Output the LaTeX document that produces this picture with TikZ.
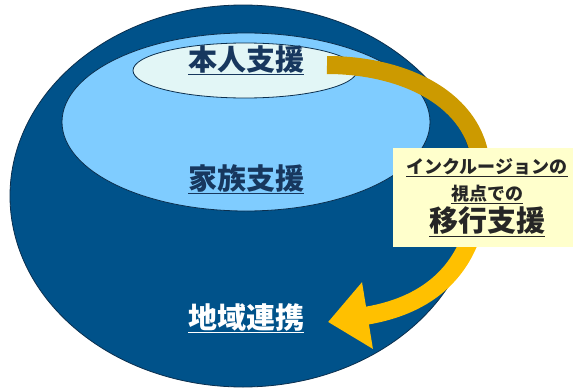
\documentclass[tikz,border=0pt]{standalone}
\usepackage{fontspec}
\setmainfont{Noto Sans CJK JP}
\usepackage{xcolor}
\usepackage{tikz}
\usetikzlibrary{shapes.geometric, arrows.meta, positioning}

\definecolor{deepblue}{HTML}{00528A}
\definecolor{edgeblue}{HTML}{0B2F4E}
\definecolor{skyblue}{HTML}{7FCCFF}
\definecolor{paleblue}{HTML}{E2F6F6}
\definecolor{navytext}{HTML}{17375E}
\definecolor{darkgold}{HTML}{CC9A00}
\definecolor{brightgold}{HTML}{FFC000}
\definecolor{notecream}{HTML}{FFFFCC}
\definecolor{notetext}{HTML}{262626}

\begin{document}
\begin{tikzpicture}[
    x=1pt, y=-1pt,
    region/.style={ellipse, draw=edgeblue, line width=0.8pt, inner sep=0pt},
    area label/.style={font=\bfseries\fontsize{29}{34}\selectfont, anchor=base, inner sep=0pt},
    note line/.style={font=\bfseries\fontsize{18}{22}\selectfont, text=notetext, anchor=base, inner sep=0pt},
    shift arrow/.style={line width=18pt}
]
\useasboundingbox (0,0) rectangle (573,388);

% nested circles of support
\node [region, fill=deepblue, minimum width=466pt, minimum height=382pt] (community) at (243,196) {};
\node [region, fill=skyblue, minimum width=368pt, minimum height=178pt] (family) at (246,122) {};
\node [region, fill=paleblue, minimum width=224pt, minimum height=55pt] (self) at (245,70.5) {};

% transition arrow
\coordinate (arrowstart) at (327,65);
\coordinate (bend) at (481,165);
\coordinate (arrowtip) at (328,322);
\draw [shift arrow, darkgold] (arrowstart) .. controls (405,65) and (476,100) .. (bend);
\draw [shift arrow, brightgold, -{Triangle[length=40pt, width=65pt]}] (bend) .. controls (484,265) and (432,305) .. (arrowtip);

\node [area label, text=navytext] (selflabel) at (246,70) {\underline{本人支援}};
\node [area label, text=navytext] (familylabel) at (246,189) {\underline{家族支援}};
\node [area label, text=white] (communitylabel) at (246,328) {\underline{地域連携}};

% note box
\node [rectangle, fill=notecream, minimum width=180pt, minimum height=99pt, inner sep=0pt] (note) at (483,197.5) {};
\node [note line] (note1) at (487,173) {\underline{インクルージョンの}};
\node [note line] (note2) at (487,200) {\underline{視点での}};
\node [note line, font=\bfseries\fontsize{29}{34}\selectfont] (note3) at (487,231.5) {\underline{移行支援}};
\end{tikzpicture}
\end{document}
